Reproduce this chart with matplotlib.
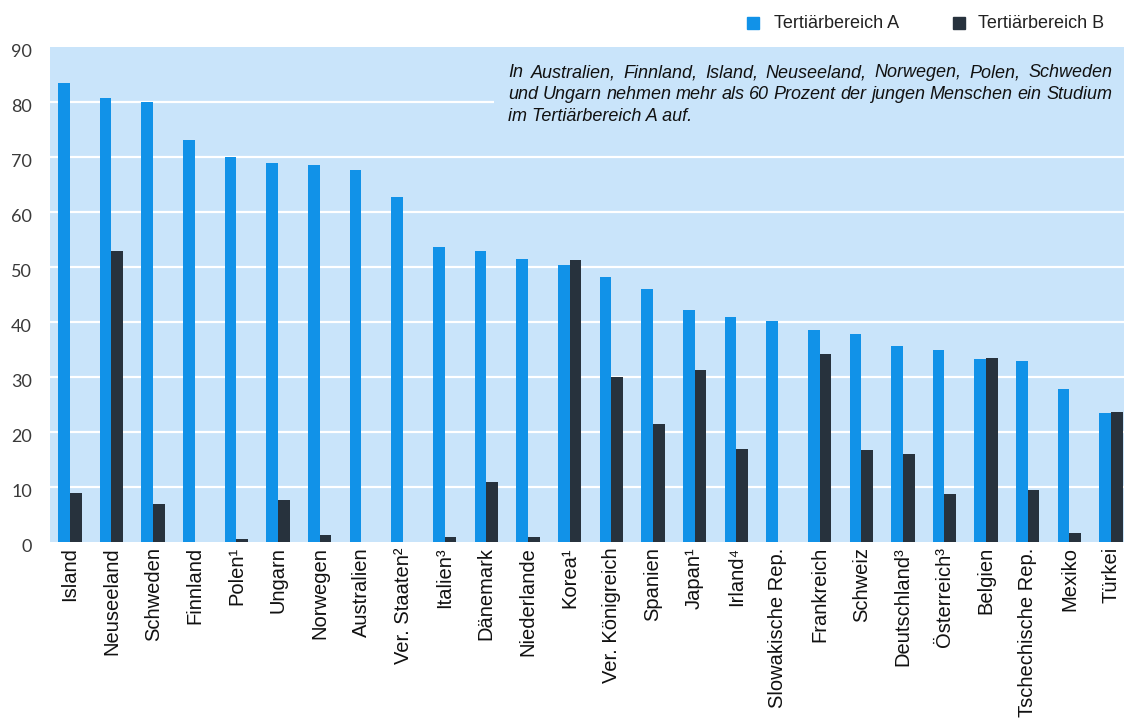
import numpy as np
import matplotlib.pyplot as plt
from matplotlib.transforms import ScaledTranslation

countries = ['Island', 'Neuseeland', 'Schweden', 'Finnland', 'Polen¹', 'Ungarn',
             'Norwegen', 'Australien', 'Ver. Staaten²', 'Italien³', 'Dänemark',
             'Niederlande', 'Korea¹', 'Ver. Königreich', 'Spanien', 'Japan¹',
             'Irland⁴', 'Slowakische Rep.', 'Frankreich', 'Schweiz',
             'Deutschland³', 'Österreich³', 'Belgien', 'Tschechische Rep.',
             'Mexiko', 'Türkei']
tert_a = [83.3, 80.6, 79.9, 73.0, 69.9, 68.8, 68.4, 67.6, 62.6, 53.6, 52.8, 51.4,
          50.3, 48.1, 45.9, 42.1, 40.8, 40.1, 38.5, 37.8, 35.6, 34.9, 33.2, 32.8,
          27.7, 23.3]
tert_b = [8.8, 52.8, 6.8, np.nan, 0.5, 7.5, 1.2, np.nan, np.nan, 0.9, 10.9, 0.9,
          51.2, 29.9, 21.3, 31.2, 16.8, np.nan, 34.1, 16.7, 15.9, 8.6, 33.4, 9.3,
          1.6, 23.6]
yticks = [0, 10, 20, 30, 40, 50, 60, 70, 80, 90]

note = ["In Australien, Finnland, Island, Neuseeland, Norwegen, Polen, Schweden",
        "und Ungarn nehmen mehr als 60 Prozent der jungen Menschen ein Studium",
        "im Tertiärbereich A auf."]

BLUE = '#1192e8'
DARK = '#27323d'
BG = '#c9e4fa'
SANS = ['Liberation Sans', 'DejaVu Sans']

fig = plt.figure(figsize=(11.24, 7.28), dpi=100)
ax = fig.add_axes([0.0445, 0.256, 0.9555, 0.68])
ax.set_facecolor(BG)

x = np.arange(len(countries))
w = 0.28
ax.bar(x - w / 2, tert_a, w, color=BLUE, zorder=3)
ax.bar(x + w / 2, tert_b, w, color=DARK, zorder=3)

ax.set_xlim(-0.476, len(countries) - 1 + 0.31)
ax.set_ylim(0, 90)
ax.set_yticks(yticks)
for v in yticks[1:-1]:
    ax.axhline(v, color='white', lw=1.6, zorder=1)

for s in ax.spines.values():
    s.set_visible(False)
ax.tick_params(length=0)
ax.set_yticklabels([str(v) for v in yticks], fontsize=13, color='#3a3a3a',
                   family='Lato')
ax.tick_params(axis='y', pad=13)
# y labels sit a little below their grid lines
shift = ScaledTranslation(0, -4 / 100, fig.dpi_scale_trans)
for lab in ax.get_yticklabels():
    lab.set_transform(lab.get_transform() + shift)
ax.set_xticks(x)
ax.set_xticklabels(countries, rotation=90, fontsize=14.5, family=SANS,
                   color='#111111')
ax.tick_params(axis='x', pad=4)

# note box covering the grid, justified lines
fig.canvas.draw()
renderer = fig.canvas.get_renderer()
ax.add_patch(plt.Rectangle((0.413, 0.86), 0.6, 0.12, transform=ax.transAxes,
                           facecolor=BG, edgecolor='none', zorder=2))
x0, x1 = 508 / 1124, 1112 / 1124
baselines = [77, 99, 121]
fprops = dict(fontsize=13, style='italic', family=SANS, color='#111111',
              va='baseline')
for i, line in enumerate(note):
    yy = 1 - baselines[i] / 728
    words = line.split(' ')
    if i == len(note) - 1:
        fig.text(x0, yy, line, **fprops)
        continue
    txts = [fig.text(0, yy, wd, **fprops) for wd in words]
    widths = [t.get_window_extent(renderer).width / 1124 for t in txts]
    gap = (x1 - x0 - sum(widths)) / (len(words) - 1)
    pos = x0
    for t, wd in zip(txts, widths):
        t.set_x(pos)
        pos += wd + gap

# legend
fig.patches.append(plt.Rectangle((747 / 1124, 1 - 29 / 728), 12 / 1124, 12 / 728,
                                 transform=fig.transFigure, color=BLUE))
fig.text(774 / 1124, 1 - 23 / 728, 'Tertiärbereich A', va='center', fontsize=13,
         family=SANS, color='#222222')
fig.patches.append(plt.Rectangle((953 / 1124, 1 - 29 / 728), 12 / 1124, 12 / 728,
                                 transform=fig.transFigure, color=DARK))
fig.text(978 / 1124, 1 - 23 / 728, 'Tertiärbereich B', va='center', fontsize=13,
         family=SANS, color='#222222')

fig.savefig('out.png', dpi=100)
